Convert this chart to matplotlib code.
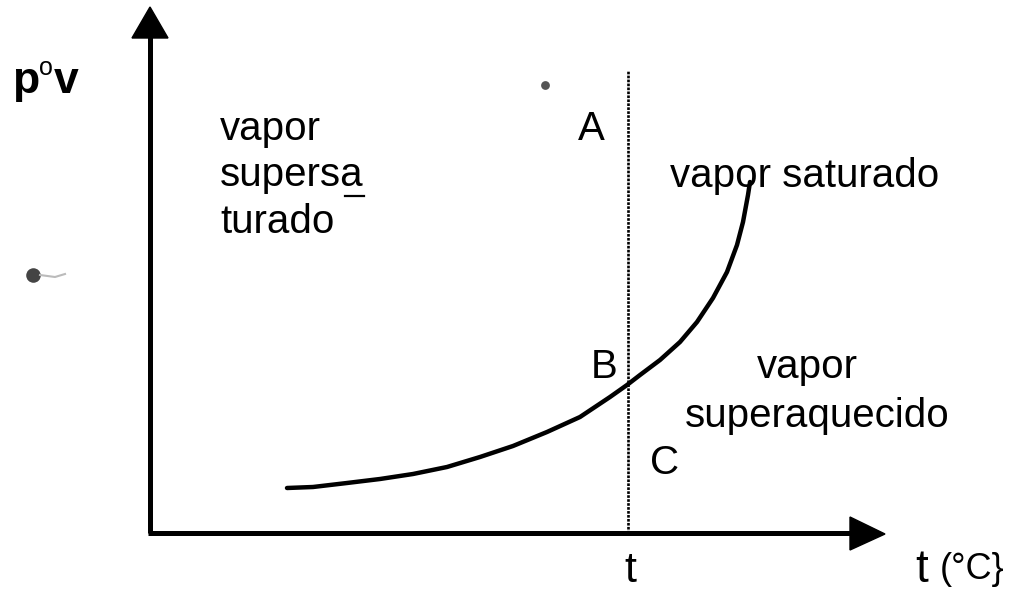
import matplotlib.pyplot as plt
from matplotlib.patches import Polygon

# saturation curve p°v(t) (units: px from the axes corner)
curve_t = [137, 163, 197, 230, 263, 297, 330, 363, 397, 430, 460, 477,
           490, 510, 530, 547, 563, 577, 587, 593, 598, 600]
curve_p = [45, 46, 50, 54, 59, 66, 76, 87, 101, 116, 136, 148,
           158, 173, 191, 211, 235, 261, 288, 311, 338, 351]

# the chosen temperature t and the top of its dotted line
t_mark = 478
t_line_top = 463

# axis extents
x_end = 735
y_end = 526

plt.rcParams['font.family'] = ['Liberation Sans', 'DejaVu Sans']

fig = plt.figure(figsize=(10.2, 5.9), dpi=100)
ax = fig.add_axes([0, 0, 1, 1])
ax.set_xlim(-150, 870)
ax.set_ylim(-57, 533)
ax.axis('off')

# axes with filled arrow heads
ax.plot([0, 0], [0, y_end - 30], color='black', lw=3.6, solid_capstyle='butt')
ax.plot([-2, x_end - 34], [0, 0], color='black', lw=3.6, solid_capstyle='butt')
ax.add_patch(Polygon([(-18, y_end - 31), (18, y_end - 31), (0, y_end)],
                     closed=True, color='black'))
ax.add_patch(Polygon([(x_end - 35, -17), (x_end - 35, 16), (x_end, -1)],
                     closed=True, color='black'))

# dotted vertical line at t
ax.plot([t_mark, t_mark], [0, t_line_top], color='black', lw=1.9,
        linestyle=(0, (1, 0.5)))

# saturation curve
ax.plot(curve_t, curve_p, color='black', lw=3.2, solid_capstyle='round',
        solid_joinstyle='round')

# labels
fs = 29
ax.text(-138, 440, 'p', fontsize=32, fontweight='bold', va='baseline')
ax.text(-111, 458, 'o', fontsize=18, va='baseline')
ax.text(-96, 440, 'v', fontsize=32, fontweight='bold', va='baseline')

ax.text(70, 393, 'vapor', fontsize=fs, va='baseline')
ax.text(70, 347, 'supersa', fontsize=fs, va='baseline')
ax.plot([195, 214], [337, 337], color='black', lw=1.6)
ax.text(70, 300, 'turado', fontsize=fs, va='baseline')

ax.text(428, 393, 'A', fontsize=fs, va='baseline')
ax.text(441, 155, 'B', fontsize=fs, va='baseline')
ax.text(500, 59, 'C', fontsize=fs, va='baseline')

ax.text(520, 346, 'vapor saturado', fontsize=fs, va='baseline')
ax.text(657, 155, 'vapor', fontsize=fs, ha='center', va='baseline')
ax.text(667, 106, 'superaquecido', fontsize=fs, ha='center', va='baseline')

ax.text(t_mark + 2, -49, 't', fontsize=31, ha='center', va='baseline')
ax.text(765, -49, 't', fontsize=33, va='baseline')
ax.text(790, -46, '(°C}', fontsize=26, va='baseline')

# scan specks
ax.scatter([395], [448], s=40, color='#555555', marker='o', linewidths=0)
ax.scatter([-117], [258], s=110, color='#444444', marker='o', linewidths=0)
ax.plot([-110, -95, -85], [258, 256, 259], color='#bbbbbb', lw=1.5)

fig.savefig('out.png', dpi=100)
